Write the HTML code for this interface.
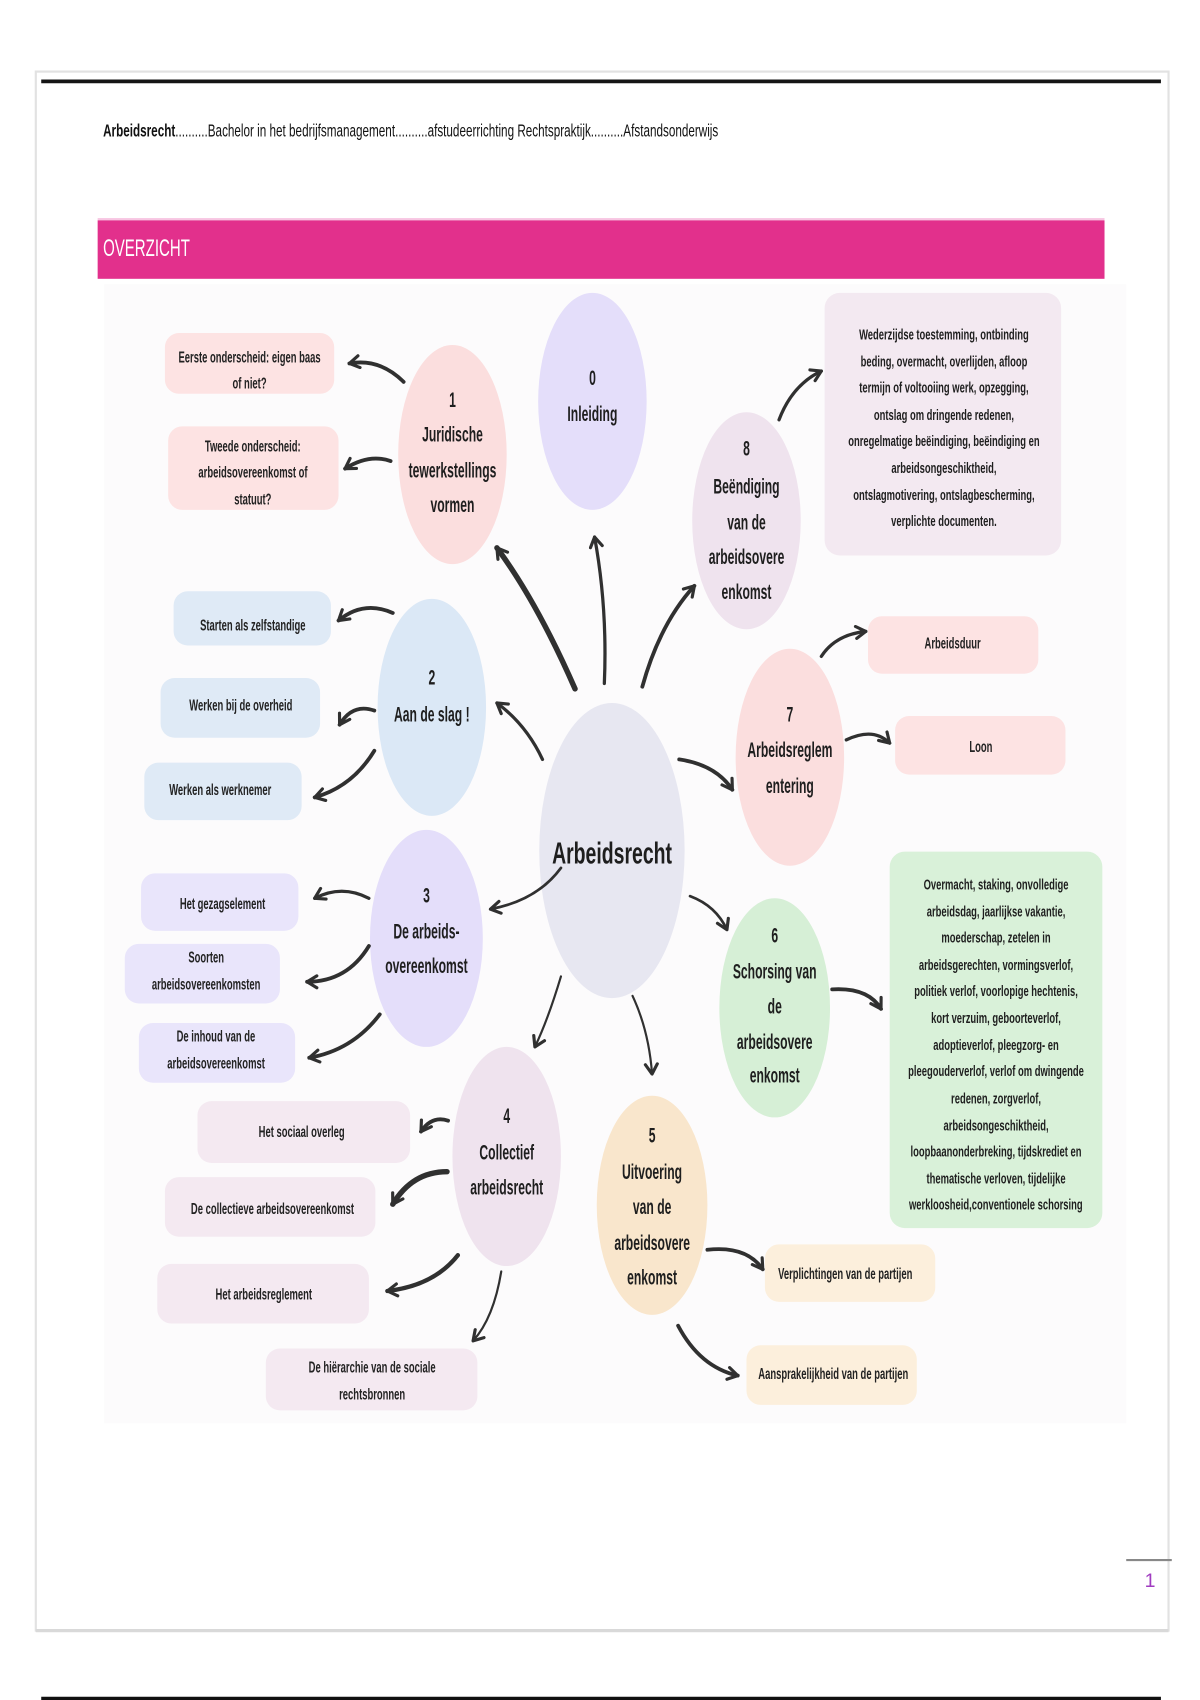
<!DOCTYPE html>
<html>
<head>
<meta charset="utf-8">
<style>
html,body{margin:0;padding:0;background:#fff;}
body{width:1200px;height:1700px;overflow:hidden;}
svg{display:block;}
text{font-family:"Liberation Sans","DejaVu Sans",sans-serif;fill:#1e1e1e;text-anchor:middle;}
.n{font-size:20px;font-weight:bold;transform-box:fill-box;transform-origin:center;transform:scaleX(0.56);}
.c{font-size:28px;font-weight:bold;transform-box:fill-box;transform-origin:center;transform:scaleX(0.64);}
.b{font-size:14.5px;font-weight:bold;fill:#222;transform-box:fill-box;transform-origin:center;transform:scaleX(0.6);}
.g{font-size:14px;font-weight:bold;fill:#1e1e1e;transform-box:fill-box;transform-origin:center;transform:scaleX(0.62);}
.a{fill:none;stroke:#303030;stroke-linecap:round;}
</style>
</head>
<body>
<svg width="1200" height="1700" viewBox="0 0 1106 1567" preserveAspectRatio="none" xmlns="http://www.w3.org/2000/svg">
<defs>
<marker id="m" markerUnits="userSpaceOnUse" markerWidth="16" markerHeight="16" refX="11" refY="7" orient="auto">
<path d="M2,1.5 L11,7 L2,12.5" fill="none" stroke="#303030" stroke-width="2.9" stroke-linecap="round" stroke-linejoin="round"/>
</marker>
</defs>

<!-- page frame -->
<rect x="33" y="66" width="1044" height="1437" fill="#fff" stroke="#e2e2e2" stroke-width="2"/>
<line x1="33" y1="1503" x2="1077" y2="1503" stroke="#d9d9d9" stroke-width="3"/>
<line x1="38" y1="75" x2="1070" y2="75" stroke="#151515" stroke-width="3.5"/>
<line x1="38" y1="1566" x2="1070" y2="1566" stroke="#111" stroke-width="4"/>

<!-- header -->
<text x="95" y="126" style="text-anchor:start;font-size:16px;fill:#111;" textLength="567" lengthAdjust="spacingAndGlyphs"><tspan font-weight="bold">Arbeidsrecht</tspan>..........Bachelor in het bedrijfsmanagement..........afstudeerrichting Rechtspraktijk..........Afstandsonderwijs</text>

<!-- pink bar -->
<rect x="90" y="203" width="928" height="54" fill="#e2308c"/>
<rect x="90" y="201" width="928" height="2" fill="#f7c6e2"/>
<text x="95" y="236" style="text-anchor:start;font-size:22px;fill:#fff;" textLength="80" lengthAdjust="spacingAndGlyphs">OVERZICHT</text>

<!-- diagram background -->
<rect x="96" y="262" width="942" height="1050" fill="#fcfbfc"/>

<!-- boxes -->
<g>
<rect x="152" y="307" width="156" height="56" rx="13" fill="#fde3e3"/>
<rect x="155" y="393" width="157" height="77" rx="13" fill="#fde3e3"/>
<rect x="160" y="545" width="145" height="50" rx="13" fill="#dfeaf6"/>
<rect x="148" y="625" width="147" height="55" rx="13" fill="#dfeaf6"/>
<rect x="133" y="703" width="145" height="53" rx="13" fill="#dfeaf6"/>
<rect x="130" y="805" width="145" height="53" rx="13" fill="#e9e5fb"/>
<rect x="115" y="870" width="143" height="55" rx="13" fill="#e9e5fb"/>
<rect x="128" y="943" width="144" height="55" rx="13" fill="#e9e5fb"/>
<rect x="182" y="1015" width="196" height="57" rx="13" fill="#f4e9f1"/>
<rect x="152" y="1085" width="194" height="55" rx="13" fill="#f4e9f1"/>
<rect x="145" y="1165" width="195" height="55" rx="13" fill="#f4e9f1"/>
<rect x="245" y="1243" width="195" height="57" rx="13" fill="#f4e9f1"/>
<rect x="760" y="270" width="218" height="242" rx="14" fill="#f3e9f1"/>
<rect x="800" y="568" width="157" height="53" rx="13" fill="#fde3e3"/>
<rect x="825" y="660" width="157" height="54" rx="13" fill="#fde3e3"/>
<rect x="820" y="785" width="196" height="347" rx="14" fill="#d9f1d9"/>
<rect x="705" y="1147" width="157" height="53" rx="13" fill="#fcefdc"/>
<rect x="688" y="1240" width="157" height="55" rx="13" fill="#fcefdc"/>
</g>

<!-- nodes -->
<ellipse cx="546" cy="370" rx="50" ry="100" fill="#e4defa"/>
<ellipse cx="417" cy="419" rx="50" ry="101" fill="#fbdede"/>
<ellipse cx="688" cy="480" rx="50" ry="100" fill="#efe3ee"/>
<ellipse cx="398" cy="652" rx="50" ry="100" fill="#dbe8f6"/>
<ellipse cx="728" cy="698" rx="50" ry="100" fill="#fbdede"/>
<ellipse cx="564" cy="784" rx="67" ry="136" fill="#e7e7f1"/>
<ellipse cx="393" cy="865" rx="52" ry="100" fill="#e4defa"/>
<ellipse cx="714" cy="929" rx="51" ry="101" fill="#d6efd6"/>
<ellipse cx="467" cy="1066" rx="50" ry="101" fill="#efe3ee"/>
<ellipse cx="601" cy="1111" rx="51" ry="101" fill="#f9e6cc"/>

<!-- arrows from center -->
<path class="a" d="M530,635 Q495,555 458,505" stroke-width="5" marker-end="url(#m)"/>
<path class="a" d="M557,630 Q560,560 548,495" stroke-width="3" marker-end="url(#m)"/>
<path class="a" d="M592,633 Q608,575 640,540" stroke-width="3.5" marker-end="url(#m)"/>
<path class="a" d="M500,700 Q485,668 458,648" stroke-width="3" marker-end="url(#m)"/>
<path class="a" d="M626,700 Q660,705 675,728" stroke-width="3.5" marker-end="url(#m)"/>
<path class="a" d="M517,800 Q495,830 452,838" stroke-width="2.5" marker-end="url(#m)"/>
<path class="a" d="M636,826 Q660,835 670,857" stroke-width="2.5" marker-end="url(#m)"/>
<path class="a" d="M517,900 Q505,940 493,965" stroke-width="2" marker-end="url(#m)"/>
<path class="a" d="M583,918 Q598,950 601,990" stroke-width="2" marker-end="url(#m)"/>

<!-- arrows to boxes -->
<path class="a" d="M372,352 Q350,330 322,335" stroke-width="3.5" marker-end="url(#m)"/>
<path class="a" d="M360,425 Q340,418 318,432" stroke-width="3.5" marker-end="url(#m)"/>
<path class="a" d="M362,565 Q335,553 312,572" stroke-width="3.5" marker-end="url(#m)"/>
<path class="a" d="M345,655 Q325,648 313,668" stroke-width="3.5" marker-end="url(#m)"/>
<path class="a" d="M345,692 Q325,725 290,735" stroke-width="3.5" marker-end="url(#m)"/>
<path class="a" d="M340,828 Q315,815 290,828" stroke-width="3" marker-end="url(#m)"/>
<path class="a" d="M340,872 Q320,905 283,905" stroke-width="3.5" marker-end="url(#m)"/>
<path class="a" d="M350,935 Q325,968 285,975" stroke-width="3.5" marker-end="url(#m)"/>
<path class="a" d="M413,1033 Q398,1028 388,1043" stroke-width="3.5" marker-end="url(#m)"/>
<path class="a" d="M412,1080 Q380,1080 362,1110" stroke-width="5" marker-end="url(#m)"/>
<path class="a" d="M422,1157 Q400,1185 357,1190" stroke-width="4" marker-end="url(#m)"/>
<path class="a" d="M462,1172 Q455,1215 436,1236" stroke-width="2" marker-end="url(#m)"/>
<path class="a" d="M718,387 Q730,355 757,342" stroke-width="3" marker-end="url(#m)"/>
<path class="a" d="M757,605 Q770,585 798,582" stroke-width="3" marker-end="url(#m)"/>
<path class="a" d="M780,682 Q805,670 820,685" stroke-width="3" marker-end="url(#m)"/>
<path class="a" d="M767,912 Q800,910 812,930" stroke-width="3.5" marker-end="url(#m)"/>
<path class="a" d="M652,1152 Q688,1148 703,1170" stroke-width="3.5" marker-end="url(#m)"/>
<path class="a" d="M625,1222 Q645,1260 680,1268" stroke-width="3.5" marker-end="url(#m)"/>

<!-- node texts -->
<text class="n" x="546" y="355">0</text>
<text class="n" x="546" y="388">Inleiding</text>

<text class="n" x="417" y="375">1</text>
<text class="n" x="417" y="407">Juridische</text>
<text class="n" x="417" y="440">tewerkstellings</text>
<text class="n" x="417" y="472">vormen</text>

<text class="n" x="688" y="420">8</text>
<text class="n" x="688" y="455">Beëndiging</text>
<text class="n" x="688" y="488">van de</text>
<text class="n" x="688" y="520">arbeidsovere</text>
<text class="n" x="688" y="552">enkomst</text>

<text class="n" x="398" y="631">2</text>
<text class="n" x="398" y="665">Aan de slag !</text>

<text class="n" x="728" y="665">7</text>
<text class="n" x="728" y="698">Arbeidsreglem</text>
<text class="n" x="728" y="731">entering</text>

<text class="c" x="564" y="796">Arbeidsrecht</text>

<text class="n" x="393" y="832">3</text>
<text class="n" x="393" y="865">De arbeids-</text>
<text class="n" x="393" y="897">overeenkomst</text>

<text class="n" x="714" y="869">6</text>
<text class="n" x="714" y="902">Schorsing van</text>
<text class="n" x="714" y="934">de</text>
<text class="n" x="714" y="967">arbeidsovere</text>
<text class="n" x="714" y="998">enkomst</text>

<text class="n" x="467" y="1035">4</text>
<text class="n" x="467" y="1069">Collectief</text>
<text class="n" x="467" y="1101">arbeidsrecht</text>

<text class="n" x="601" y="1053">5</text>
<text class="n" x="601" y="1087">Uitvoering</text>
<text class="n" x="601" y="1119">van de</text>
<text class="n" x="601" y="1152">arbeidsovere</text>
<text class="n" x="601" y="1184">enkomst</text>

<!-- box texts -->
<text class="b" x="230" y="334">Eerste onderscheid: eigen baas</text>
<text class="b" x="230" y="358">of niet?</text>
<text class="b" x="233" y="416">Tweede onderscheid:</text>
<text class="b" x="233" y="440">arbeidsovereenkomst of</text>
<text class="b" x="233" y="465">statuut?</text>
<text class="b" x="233" y="581">Starten als zelfstandige</text>
<text class="b" x="222" y="655">Werken bij de overheid</text>
<text class="b" x="203" y="733">Werken als werknemer</text>
<text class="b" x="205" y="838">Het gezagselement</text>
<text class="b" x="190" y="887">Soorten</text>
<text class="b" x="190" y="912">arbeidsovereenkomsten</text>
<text class="b" x="199" y="960">De inhoud van de</text>
<text class="b" x="199" y="985">arbeidsovereenkomst</text>
<text class="b" x="278" y="1048">Het sociaal overleg</text>
<text class="b" x="251" y="1119">De collectieve arbeidsovereenkomst</text>
<text class="b" x="243" y="1198">Het arbeidsreglement</text>
<text class="b" x="343" y="1265">De hiërarchie van de sociale</text>
<text class="b" x="343" y="1290">rechtsbronnen</text>
<text class="b" x="878" y="598">Arbeidsduur</text>
<text class="b" x="904" y="693">Loon</text>
<text class="b" x="779" y="1179">Verplichtingen van de partijen</text>
<text class="b" x="768" y="1271">Aansprakelijkheid van de partijen</text>

<!-- big box 8 -->
<text class="g" x="870" y="313">Wederzijdse toestemming, ontbinding</text>
<text class="g" x="870" y="338">beding, overmacht, overlijden, afloop</text>
<text class="g" x="870" y="362">termijn of voltooiing werk, opzegging,</text>
<text class="g" x="870" y="387">ontslag om dringende redenen,</text>
<text class="g" x="870" y="411">onregelmatige beëindiging, beëindiging en</text>
<text class="g" x="870" y="436">arbeidsongeschiktheid,</text>
<text class="g" x="870" y="461">ontslagmotivering, ontslagbescherming,</text>
<text class="g" x="870" y="485">verplichte documenten.</text>

<!-- green box -->
<text class="g" x="918" y="820">Overmacht, staking, onvolledige</text>
<text class="g" x="918" y="845">arbeidsdag, jaarlijkse vakantie,</text>
<text class="g" x="918" y="869">moederschap, zetelen in</text>
<text class="g" x="918" y="894">arbeidsgerechten, vormingsverlof,</text>
<text class="g" x="918" y="918">politiek verlof, voorlopige hechtenis,</text>
<text class="g" x="918" y="943">kort verzuim, geboorteverlof,</text>
<text class="g" x="918" y="968">adoptieverlof, pleegzorg- en</text>
<text class="g" x="918" y="992">pleegouderverlof, verlof om dwingende</text>
<text class="g" x="918" y="1017">redenen, zorgverlof,</text>
<text class="g" x="918" y="1042">arbeidsongeschiktheid,</text>
<text class="g" x="918" y="1066">loopbaanonderbreking, tijdskrediet en</text>
<text class="g" x="918" y="1091">thematische verloven, tijdelijke</text>
<text class="g" x="918" y="1115">werkloosheid,conventionele schorsing</text>

<!-- page number -->
<line x1="1038" y1="1438" x2="1080" y2="1438" stroke="#888" stroke-width="2"/>
<text x="1060" y="1463" style="font-size:18px;fill:#a03cc0;">1</text>
</svg>
</body>
</html>
